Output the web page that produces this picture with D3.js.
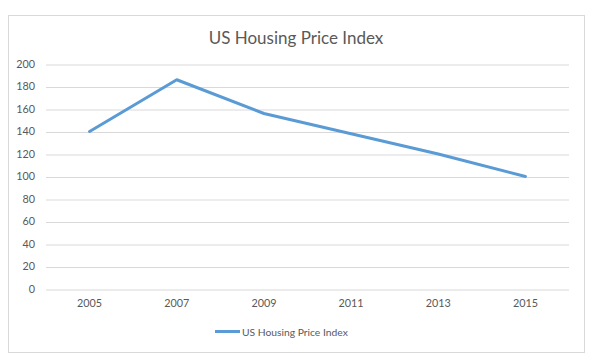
<!DOCTYPE html>
<html>
<head>
<meta charset="utf-8">
<script src="https://cdn.jsdelivr.net/npm/d3@7"></script>
<style>
  html, body { margin: 0; padding: 0; background: #fff; }
  svg { display: block; }
  text { font-family: Lato, "Open Sans", sans-serif; fill: #595959; }
</style>
</head>
<body>
<svg id="chart" width="598" height="362"></svg>
<script>
const title = "US Housing Price Index";
const seriesName = "US Housing Price Index";
const years = ["2005", "2007", "2009", "2011", "2013", "2015"];
const values = [140, 186, 156, 138, 120, 100];
const yTicks = [0, 20, 40, 60, 80, 100, 120, 140, 160, 180, 200];

const svg = d3.select("#chart");

// chart frame
svg.append("rect")
  .attr("x", 8.5).attr("y", 15.5)
  .attr("width", 576).attr("height", 337)
  .attr("fill", "#fff").attr("stroke", "#d9d9d9").attr("stroke-width", 1);

const plot = { left: 46, right: 569, top: 64, bottom: 289 };

const x = d3.scaleBand().domain(years).range([plot.left, plot.right]);
const y = d3.scaleLinear().domain([0, 200]).range([plot.bottom, plot.top]);

// gridlines + y labels
const yAxis = d3.axisLeft(y).tickValues(yTicks).tickSize(-(plot.right - plot.left)).tickPadding(11);
const gy = svg.append("g").attr("transform", `translate(${plot.left},0)`).call(yAxis);
gy.select(".domain").remove();
gy.selectAll(".tick line").attr("stroke", "#d9d9d9").attr("stroke-width", 1)
  .attr("transform", "translate(0,0.5)");
gy.selectAll(".tick text").attr("font-size", "10.8px").attr("fill", "#595959")
  .style("font-family", "Lato, 'Open Sans', sans-serif");

// x labels
const xAxis = d3.axisBottom(x).tickSize(0).tickPadding(10);
const gx = svg.append("g").attr("transform", `translate(0,${plot.bottom})`).call(xAxis);
gx.select(".domain").remove();
gx.selectAll(".tick text").attr("font-size", "10.8px").attr("fill", "#595959")
  .style("font-family", "Lato, 'Open Sans', sans-serif");

// line
const line = d3.line()
  .x((d, i) => x(years[i]) + x.bandwidth() / 2)
  .y(d => y(d));
svg.append("path")
  .datum(values)
  .attr("d", line)
  .attr("fill", "none")
  .attr("stroke", "#5b9bd5")
  .attr("stroke-width", 3)
  .attr("stroke-linejoin", "round")
  .attr("stroke-linecap", "round");

// title
svg.append("text")
  .attr("x", 296).attr("y", 44)
  .attr("text-anchor", "middle")
  .attr("font-size", "17px")
  .text(title);

// legend
svg.append("line")
  .attr("x1", 215).attr("x2", 240).attr("y1", 331.5).attr("y2", 331.5)
  .attr("stroke", "#5b9bd5").attr("stroke-width", 3);
svg.append("text")
  .attr("x", 242).attr("y", 335.5)
  .attr("font-size", "10.3px")
  .text(seriesName);
</script>
</body>
</html>
